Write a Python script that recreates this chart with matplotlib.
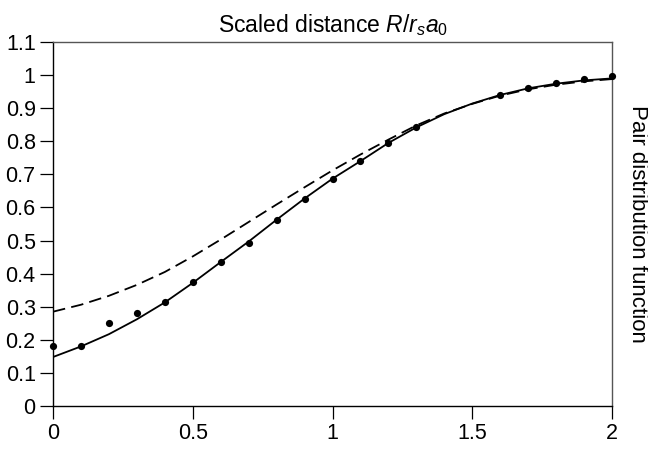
import matplotlib
matplotlib.use("Agg")
import matplotlib.pyplot as plt

# ---- data ----
x_points = [0.0, 0.1, 0.2, 0.3, 0.4, 0.5, 0.6, 0.7, 0.8, 0.9, 1.0, 1.1, 1.2, 1.3,
            1.6, 1.7, 1.8, 1.9, 2.0]
y_points = [0.180, 0.180, 0.251, 0.282, 0.315, 0.375, 0.436, 0.494, 0.563, 0.627,
            0.687, 0.739, 0.795, 0.842, 0.941, 0.962, 0.977, 0.987, 0.997]

x_curve = [0.0, 0.1, 0.2, 0.3, 0.4, 0.5, 0.6, 0.7, 0.8, 0.9, 1.0,
           1.1, 1.2, 1.3, 1.4, 1.5, 1.6, 1.7, 1.8, 1.9, 2.0]
solid_curve = [0.148, 0.180, 0.217, 0.262, 0.313, 0.372, 0.435, 0.497, 0.563, 0.627, 0.687,
               0.740, 0.795, 0.842, 0.882, 0.914, 0.940, 0.960, 0.974, 0.984, 0.990]
dashed_curve = [0.285, 0.306, 0.333, 0.366, 0.405, 0.452, 0.503, 0.556, 0.609, 0.661, 0.712,
                0.760, 0.805, 0.848, 0.884, 0.913, 0.938, 0.957, 0.971, 0.981, 0.988]

x_ticks = [0, 0.5, 1, 1.5, 2]
x_ticklabels = ["0", "0.5", "1", "1.5", "2"]
y_ticks = [0, 0.1, 0.2, 0.3, 0.4, 0.5, 0.6, 0.7, 0.8, 0.9, 1.0, 1.1]
y_ticklabels = ["0", "0.1", "0.2", "0.3", "0.4", "0.5", "0.6", "0.7", "0.8", "0.9", "1", "1.1"]

title_text = r"Scaled distance $R/r_sa_0$"
ylabel_text = "Pair distribution function"

# ---- style ----
plt.rcParams["font.family"] = ["Liberation Sans", "DejaVu Sans"]
plt.rcParams["mathtext.fontset"] = "custom"
plt.rcParams["mathtext.rm"] = "Liberation Sans"
plt.rcParams["mathtext.it"] = "Liberation Sans:italic"
plt.rcParams["lines.scale_dashes"] = False

W, H = 648, 450
fig = plt.figure(figsize=(W / 100, H / 100), dpi=100)
left, right, top, bottom = 53, 612, 42, 406
ax = fig.add_axes([left / W, 1 - bottom / H, (right - left) / W, (bottom - top) / H])

ax.plot(x_curve, dashed_curve, color="black", lw=1.3, dashes=(9, 4.5))
ax.plot(x_curve, solid_curve, color="black", lw=1.3)
ax.plot(x_points, y_points, "o", color="black", ms=5.2, mew=0, clip_on=False, zorder=5)

ax.set_xlim(0, 2)
ax.set_ylim(0, 1.1)
ax.set_xticks(x_ticks)
ax.set_xticklabels(x_ticklabels)
ax.set_yticks(y_ticks)
ax.set_yticklabels(y_ticklabels)
ax.tick_params(axis="both", direction="out", length=9.5, width=0.9, labelsize=15.5,
               colors="black", pad=3)

for s in ["left", "bottom"]:
    ax.spines[s].set_color("black")
    ax.spines[s].set_linewidth(1.0)
for s in ["top", "right"]:
    ax.spines[s].set_color("#555555")
    ax.spines[s].set_linewidth(1.0)

ax.set_title(title_text, fontsize=16.5, pad=7)
ax.text(1.045, 0.5, ylabel_text, transform=ax.transAxes, rotation=270,
        ha="center", va="center", fontsize=16)

fig.savefig("out.png", dpi=100)
